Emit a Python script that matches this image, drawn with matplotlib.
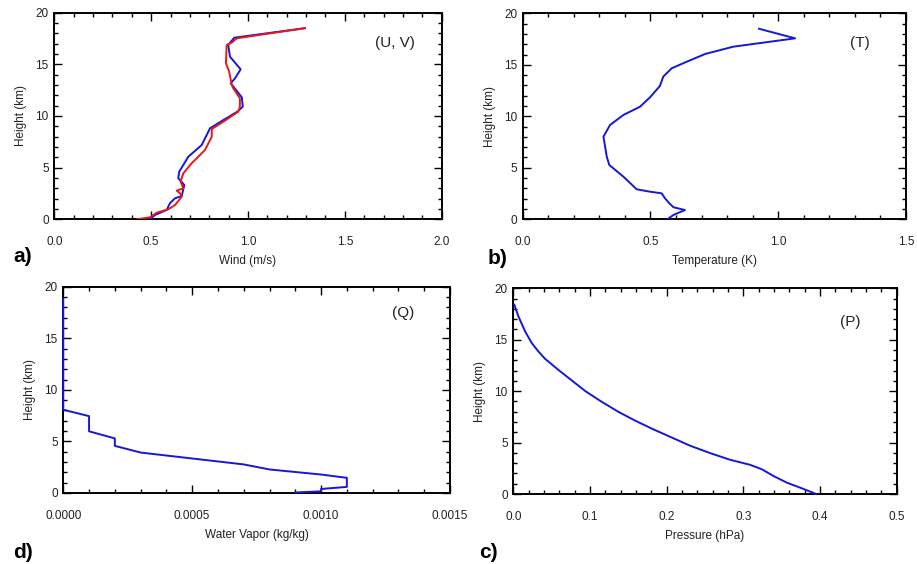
import numpy as np
import matplotlib
matplotlib.use("Agg")
import matplotlib.pyplot as plt
from matplotlib.ticker import MultipleLocator, FormatStrFormatter

plt.rcParams['font.family'] = ['Liberation Sans', 'DejaVu Sans']

# (U, V) wind profile
u_height = [0.0, 0.42, 0.90, 1.55, 2.03, 2.26, 3.32, 3.74, 3.97, 4.61, 6.06, 7.19, 8.81,
            9.61, 10.42, 10.90, 11.81, 13.16, 13.65, 14.52, 15.74, 16.87, 17.58, 18.5]
u_wind = [0.494, 0.520, 0.580, 0.597, 0.623, 0.658, 0.671, 0.652, 0.640, 0.645, 0.692, 0.761, 0.804,
          0.873, 0.945, 0.973, 0.968, 0.911, 0.933, 0.962, 0.907, 0.898, 0.929, 1.294]
v_height = [0.0, 0.19, 0.64, 0.97, 1.38, 2.19, 2.52, 2.77, 3.0, 3.65, 4.45, 5.42, 6.71, 8.0,
            8.74, 9.45, 10.42, 10.9, 11.71, 12.68, 13.0, 14.29, 15.1, 16.87, 17.1, 17.52, 18.5]
v_wind = [0.425, 0.494, 0.529, 0.589, 0.623, 0.658, 0.649, 0.632, 0.666, 0.652, 0.666, 0.709, 0.778, 0.813,
          0.813, 0.873, 0.950, 0.958, 0.958, 0.924, 0.916, 0.903, 0.886, 0.890, 0.916, 0.942, 1.294]

# (T) temperature profile
t_height = [0.0, 0.42, 0.90, 1.17, 1.55, 2.03, 2.52, 2.68, 2.91, 4.14, 5.27, 6.08, 8.02,
            9.16, 10.13, 10.93, 11.84, 12.94, 13.85, 14.66, 15.3, 16.05, 16.76, 17.57, 18.5]
temp = [0.566, 0.590, 0.635, 0.590, 0.574, 0.557, 0.544, 0.498, 0.446, 0.394, 0.339, 0.329, 0.316,
        0.342, 0.394, 0.459, 0.498, 0.537, 0.550, 0.583, 0.642, 0.714, 0.824, 1.066, 0.925]

# (Q) water vapor profile
q_height = [18.8, 8.07, 7.45, 5.98, 5.29, 4.57, 3.92, 2.77, 2.28, 1.79, 1.47, 0.59, 0.39, 0.16, 0.05]
q_vapor = [0.0, 0.0, 0.0001, 0.0001, 0.0002, 0.0002, 0.0003, 0.0007, 0.0008, 0.0010, 0.0011,
           0.0011, 0.0010, 0.0010, 0.0009]

# (P) pressure profile
p_height = [18.4, 17.29, 15.82, 14.68, 13.87, 13.15, 12.07, 10.0, 9.0, 7.99, 7.14,
            6.36, 4.70, 3.98, 3.33, 2.84, 2.41, 1.76, 1.11, 0.62, 0.0]
pres = [0.0013, 0.0065, 0.0153, 0.024, 0.0326, 0.0413, 0.0587, 0.094, 0.1145, 0.137, 0.1587,
        0.1805, 0.2304, 0.2565, 0.2826, 0.3087, 0.324, 0.339, 0.3565, 0.374, 0.395]

BLUE = '#1616dc'
RED = '#e61919'
TXT = '#222222'

fig = plt.figure(figsize=(9.17, 5.64), dpi=100)


def style_axis(ax, xmax, xmajor, xminor, xfmt, xlabel, tag, tag_xy):
    ax.set_xlim(0, xmax)
    ax.set_ylim(0, 20)
    ax.xaxis.set_major_locator(MultipleLocator(xmajor))
    ax.xaxis.set_minor_locator(MultipleLocator(xminor))
    ax.xaxis.set_major_formatter(FormatStrFormatter(xfmt))
    ax.yaxis.set_major_locator(MultipleLocator(5))
    ax.yaxis.set_minor_locator(MultipleLocator(1))
    ax.tick_params(which='both', direction='in', top=True, right=True, width=1.0,
                   colors='black', labelcolor=TXT, labelsize=8.5)
    ax.tick_params(which='major', length=6)
    ax.tick_params(which='minor', length=3)
    ax.tick_params(axis='x', pad=12)
    ax.tick_params(axis='y', pad=4)
    for s in ax.spines.values():
        s.set_linewidth(1.4)
    ax.set_xlabel(xlabel, fontsize=8.5, color=TXT, labelpad=5)
    ax.set_ylabel('Height (km)', fontsize=8.5, color=TXT, labelpad=6)
    ax.text(0.88, tag_xy, tag, transform=ax.transAxes, fontsize=11,
            ha='center', va='center', color=TXT)


# a) wind
ax_a = fig.add_axes([0.0592, 0.6112, 0.4225, 0.3663])
ax_a.plot(u_wind, u_height, color=BLUE, lw=1.4, zorder=3)
ax_a.plot(v_wind, v_height, color=RED, lw=1.4, zorder=3)
style_axis(ax_a, 2.0, 0.5, 0.1, '%.1f', 'Wind (m/s)', '(U, V)', 0.852)

# b) temperature
ax_b = fig.add_axes([0.570, 0.6112, 0.418, 0.3652])
ax_b.plot(temp, t_height, color=BLUE, lw=1.4, zorder=3)
style_axis(ax_b, 1.5, 0.5, 0.1, '%.1f', 'Temperature (K)', '(T)', 0.854)

# d) water vapor
ax_d = fig.add_axes([0.069, 0.1259, 0.4217, 0.3658])
ax_d.plot(q_vapor, q_height, color=BLUE, lw=1.4, zorder=3, clip_on=False)
style_axis(ax_d, 0.0015, 0.0005, 0.0001, '%.4f', 'Water Vapor (kg/kg)', '(Q)', 0.871)

# c) pressure
ax_c = fig.add_axes([0.5598, 0.1241, 0.4181, 0.3647])
ax_c.plot(pres, p_height, color=BLUE, lw=1.4, zorder=3, clip_on=False)
style_axis(ax_c, 0.5, 0.1, 0.02, '%.1f', 'Pressure (hPa)', '(P)', 0.838)

# panel letters
for lbl, x, y in [('a)', 23, 257), ('b)', 498, 259), ('d)', 23, 553), ('c)', 488, 553)]:
    fig.text(x / 917, 1 - y / 564, lbl, fontsize=15, fontweight='bold',
             ha='center', va='center', color='black')

fig.savefig('out.png', dpi=100)
